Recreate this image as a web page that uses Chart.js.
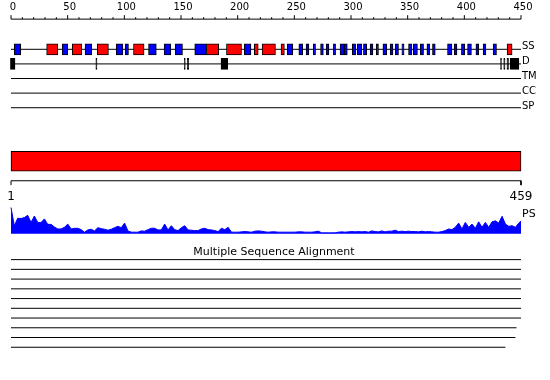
<!DOCTYPE html>
<html><head><meta charset="utf-8">
<script src="https://cdn.jsdelivr.net/npm/chart.js@4.4.0/dist/chart.umd.min.js"></script>
<style>html,body{margin:0;padding:0;background:#fff;}canvas{display:block;}</style>
</head><body>
<canvas id="c" width="550" height="380"></canvas>
<script>
// ---------------- data ----------------
const seqStart = 1;
const seqEnd = 459;
const rulerMax = 450;
const rulerLabelValues = [0, 50, 100, 150, 200, 250, 300, 350, 400, 450];
const rulerLabels = ['0', '50', '100', '150', '200', '250', '300', '350', '400', '450'];
const trackLabels = ['SS', 'D', 'TM', 'CC', 'SP'];
const profileLabel = 'PS';
const msaTitle = 'Multiple Sequence Alignment';

// secondary structure: helices (red) and strands (blue), residue ranges
const helices = [[33,43],[56,64.5],[78.5,88.5],[111,120.5],[176.5,187.5],[194.5,208],
  [219.5,223],[226.5,238.5],[243.5,246.5],[446.5,451]];
const strands = [[4,9.7],[47,52],[67.5,73.5],[95.5,101.5],[103.5,106.5],[124.5,131.5],
  [138.5,144.5],[148.5,155],[166,176.5],[210.5,216.5],[249,254],[259.5,263],[266,268.5],
  [272.5,274.5],[279,281.5],[284,286.5],[290.5,292.5],[296.5,300],[300.3,303],[307.5,310.5],
  [312,316],[317.5,320.5],[323.5,326],[329,331],[335,338.5],[341.5,344],[346,349],[352,354],
  [358,361],[362.3,366],[368.5,371.5],[374.5,377],[379.5,382],[393,397],[399,401.5],
  [405.5,408.5],[411,414.5],[418.5,421],[425,427.5],[434,437]];
// disordered regions
const disorder = [[0.5,4.6],[77.2,78.2],[156.6,157.5],[159.3,160.6],[189.6,195.6],
  [440.6,441.5],[443.5,444.6],[446.4,447.8],[449.2,457.1]];
// profile score (PS), sampled every 3 residues, last at residue 459
const psStep = 3;
const psValues = [
  27, 8.3, 16, 15.7, 16.7, 19, 11.7, 18.3, 11.7, 11.7,
  15.3, 9.7, 9.7, 7, 5, 5, 6.7, 10, 5, 5.7,
  5.7, 4.3, 1.7, 4, 4.7, 3, 6.3, 5.3, 4.7, 3.7,
  4.7, 6.3, 7.7, 6.3, 11, 3, 1.7, 1.7, 1.7, 3,
  2.7, 4.3, 5.7, 5.7, 4, 4, 10, 4, 8.3, 4.3,
  3.3, 6.3, 8.3, 4, 3.7, 3.3, 3.3, 5, 5.7, 4.3,
  4, 3.3, 2.3, 5.7, 4.3, 6.7, 1.7, 1.7, 1.7, 2,
  2.3, 2, 1.7, 2.7, 3, 2.7, 2, 1.7, 2, 2,
  1.7, 1.7, 1.7, 1.7, 1.7, 1.7, 2, 2, 1.7, 1.7,
  1.7, 2, 2.7, 1, 1, 1, 1, 1, 1.7, 2,
  1.7, 2, 2.3, 2, 2.3, 2, 2.3, 1.7, 3, 2.3,
  2, 3, 2, 2.7, 2.7, 3.7, 2.3, 2.7, 2.3, 2.7,
  2.3, 2.3, 2, 2.7, 2, 2.3, 2, 1.7, 1.7, 2.3,
  3.3, 5, 4.3, 6.7, 11, 5, 11.7, 6.7, 10, 5.7,
  12.3, 6.7, 11.7, 6.7, 12.3, 13.3, 11, 18, 10, 7.7,
  8.3, 6.7, 11, 13.3];
// multiple sequence alignment coverage: end residue of each aligned sequence
const msaStarts = [1, 1, 1, 1, 1, 1, 1, 1, 1, 1];
const msaEnds = [459, 459, 459, 459, 459, 459, 459, 455, 454, 445];

// ---------------- layout (pixels) ----------------
const L = {
  rulerY: 14.5, majorTickC: 12.5, majorTickR: 2, minorTickC: 13.5, minorTickR: 1,
  trackY: [45.5, 60.5, 75.5, 90.5, 105.5], boxH: 11,
  seqBarY: 160.5, seqBarH: 20, seqAxisY: 180.5, seqTickBottom: 185,
  psBase: 235, msaY0: 261.5, msaGap: 10, H: 380
};

const rulerTicksMinor = [];
for (let v = 0; v <= rulerMax; v += 10) if (v % 50 !== 0) rulerTicksMinor.push(v);

const psPoints = psValues.map((v, i) => ({x: i === psValues.length - 1 ? seqEnd : seqStart + i * psStep, y: v}));

const boxes = (ranges, y) => ranges.map(r => ({x: [r[0], r[1]], y}));
const hline = (a, b, y) => [{x: a, y}, {x: b, y}];

const barDs = (data, color, thick) => ({
  type: 'bar', indexAxis: 'y', xAxisID: 'xs', yAxisID: 'y', data,
  backgroundColor: color, borderColor: '#000', borderWidth: 1, borderSkipped: false,
  barThickness: thick, grouped: false, clip: false, order: 1
});
const lineDs = (data, xAxisID, color) => ({
  type: 'line', xAxisID, yAxisID: 'y', data, borderColor: color || '#000', borderWidth: 1,
  pointRadius: 0, fill: false, tension: 0, clip: false, order: 5
});

const datasets = [];
// ruler
datasets.push(lineDs(hline(0, rulerMax, L.rulerY), 'x'));
datasets.push({type: 'scatter', xAxisID: 'x', yAxisID: 'y',
  data: rulerLabelValues.map(v => ({x: v, y: L.majorTickC})), pointStyle: 'line', rotation: 90,
  radius: L.majorTickR, borderColor: '#000', borderWidth: 1, clip: false});
datasets.push({type: 'scatter', xAxisID: 'x', yAxisID: 'y',
  data: rulerTicksMinor.map(v => ({x: v, y: L.minorTickC})), pointStyle: 'line', rotation: 90,
  radius: L.minorTickR, borderColor: '#000', borderWidth: 1, clip: false});
// track lines
L.trackY.forEach(y => datasets.push(lineDs(hline(seqStart, seqEnd, y), 'xs')));
// SS and D boxes
datasets.push(barDs(boxes(helices, L.trackY[0]), '#ff0000', L.boxH));
datasets.push(barDs(boxes(strands, L.trackY[0]), '#0000ff', L.boxH));
datasets.push(barDs(boxes(disorder, L.trackY[1]), '#000000', L.boxH));
// sequence bar
datasets.push(barDs([{x: [seqStart, seqEnd], y: L.seqBarY}], '#ff0000', L.seqBarH));
// sequence axis
datasets.push(lineDs([{x: seqStart, y: L.seqTickBottom}, {x: seqStart, y: L.seqAxisY},
  {x: seqEnd, y: L.seqAxisY}, {x: seqEnd, y: L.seqTickBottom}], 'xs'));
// profile
datasets.push({type: 'line', xAxisID: 'xs', yAxisID: 'yPS', data: psPoints,
  borderColor: '#0000ff', backgroundColor: '#0000ff', borderWidth: 1, pointRadius: 0,
  fill: 'origin', tension: 0, clip: false});
// MSA lines
msaEnds.forEach((e, i) => datasets.push(lineDs(hline(msaStarts[i], e, L.msaY0 + i * L.msaGap), 'xs')));

const textPlugin = {
  id: 'texts',
  afterDatasetsDraw(chart) {
    const ctx = chart.ctx, xr = chart.scales.x, xs = chart.scales.xs, ca = chart.chartArea;
    ctx.save();
    ctx.fillStyle = '#000';
    ctx.textBaseline = 'alphabetic';
    ctx.textAlign = 'center';
    ctx.font = '10px "DejaVu Sans"';
    rulerLabelValues.forEach((v, i) => ctx.fillText(rulerLabels[i], xr.getPixelForValue(v) + 2, 9.5));
    ctx.textAlign = 'left';
    trackLabels.forEach((t, i) => ctx.fillText(t, ca.right + 1, L.trackY[i] + 3.8));
    ctx.font = '12px "DejaVu Sans"';
    ctx.textAlign = 'center';
    ctx.fillText(String(seqStart), xs.getPixelForValue(seqStart), 200);
    ctx.fillText(String(seqEnd), xs.getPixelForValue(seqEnd), 200);
    ctx.font = '11px "DejaVu Sans"';
    ctx.textAlign = 'left';
    ctx.fillText(profileLabel, ca.right + 1, 217);
    ctx.textAlign = 'center';
    ctx.fillText(msaTitle, 274, 254.5);
    ctx.restore();
  }
};

// PS scale: value 0 at psBase, 1 unit = 1 px
const psMin = -(L.H - L.psBase), psMax = L.psBase;

new Chart(document.getElementById('c'), {
  type: 'scatter',
  data: {datasets},
  options: {
    responsive: false, animation: false,
    layout: {padding: {left: 11, right: 29, top: 0, bottom: 0}},
    plugins: {legend: {display: false}, tooltip: {enabled: false}},
    scales: {
      x: {type: 'linear', axis: 'x', min: 0, max: rulerMax, display: false, offset: false},
      xs: {type: 'linear', axis: 'x', min: seqStart, max: seqEnd, display: false, offset: false},
      y: {type: 'linear', axis: 'y', min: 0, max: L.H, reverse: true, display: false, offset: false},
      yPS: {type: 'linear', axis: 'y', min: psMin, max: psMax, display: false, offset: false}
    }
  },
  plugins: [textPlugin]
});
</script>
</body></html>
